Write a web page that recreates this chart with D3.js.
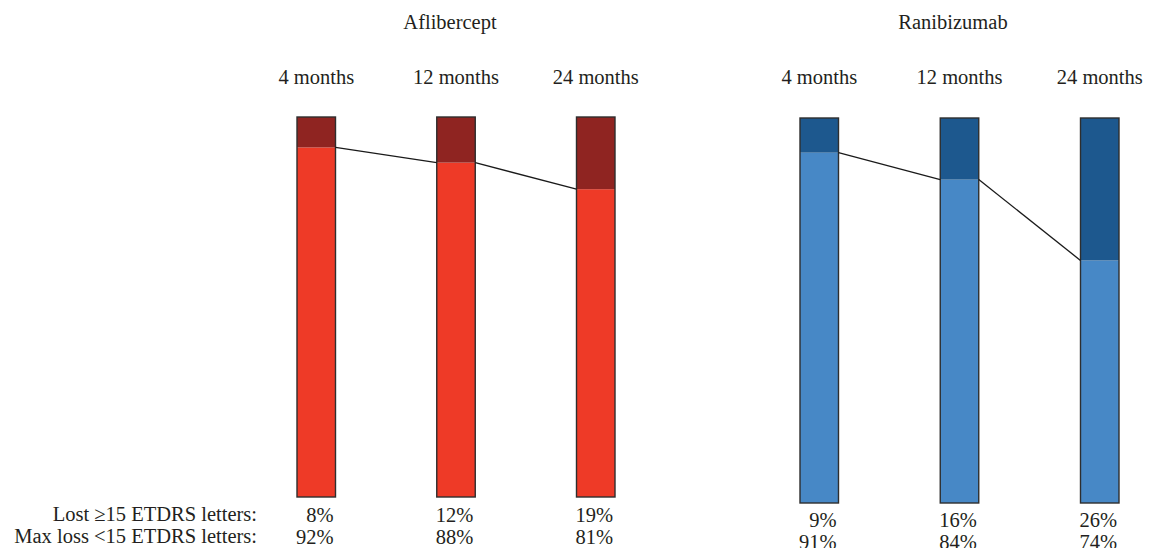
<!DOCTYPE html>
<html>
<head>
<meta charset="utf-8">
<script src="https://cdn.jsdelivr.net/npm/d3@7"></script>
<style>
  html, body { margin: 0; padding: 0; background: #fff; }
  svg text { font-family: "Liberation Serif", "DejaVu Serif", serif; fill: #231f20; }
</style>
</head>
<body>
<svg id="chart" width="1149" height="548"></svg>
<script>
// ---- data ----
const timepoints = ["4 months", "12 months", "24 months"];
const drugs = ["Aflibercept", "Ranibizumab"];
// Share (%) of eyes that lost >=15 ETDRS letters, as drawn in the bars
const aflibLost = [8, 12, 19];
const raniLost = [9, 16, 37];
// Printed value labels
const aflibLostLabels = ["8%", "12%", "19%"];
const aflibKeptLabels = ["92%", "88%", "81%"];
const raniLostLabels = ["9%", "16%", "26%"];
const raniKeptLabels = ["91%", "84%", "74%"];
const rowLabels = ["Lost \u226515 ETDRS letters:", "Max loss <15 ETDRS letters:"];

// ---- layout ----
const svg = d3.select("#chart");
const panels = [
  { name: drugs[0], lost: aflibLost, lostLbl: aflibLostLabels, keptLbl: aflibKeptLabels,
    xRange: [297, 615], top: 117, bottom: 497, dark: "#8f2421", light: "#ee3a27",
    titleX: 450, rowY: [522, 544] },
  { name: drugs[1], lost: raniLost, lostLbl: raniLostLabels, keptLbl: raniKeptLabels,
    xRange: [800, 1119], top: 118, bottom: 503, dark: "#1d588e", light: "#4788c6",
    titleX: 953, rowY: [527, 549] }
];
const barW = 38.5;
const fs = 20.5;

panels.forEach(p => {
  const x = d3.scalePoint().domain(timepoints).range([p.xRange[0] + barW / 2, p.xRange[1] - barW / 2]);
  const y = d3.scaleLinear().domain([0, 100]).range([p.bottom, p.top]);
  const g = svg.append("g");

  g.append("text").attr("x", p.titleX).attr("y", 29).attr("text-anchor", "middle")
    .style("font-size", fs + "px").text(p.name);

  g.selectAll("text.tp").data(timepoints).join("text").attr("class", "tp")
    .attr("x", d => x(d)).attr("y", 84).attr("text-anchor", "middle")
    .style("font-size", fs + "px").text(d => d);

  const data = timepoints.map((t, i) => ({ t, lost: p.lost[i] }));

  // kept (light) segment
  g.selectAll("rect.kept").data(data).join("rect").attr("class", "kept")
    .attr("x", d => x(d.t) - barW / 2).attr("width", barW)
    .attr("y", d => y(100 - d.lost)).attr("height", d => y(0) - y(100 - d.lost))
    .attr("fill", p.light);
  // lost (dark) segment on top
  g.selectAll("rect.lost").data(data).join("rect").attr("class", "lost")
    .attr("x", d => x(d.t) - barW / 2).attr("width", barW)
    .attr("y", y(100)).attr("height", d => y(100 - d.lost) - y(100))
    .attr("fill", p.dark);
  // outline
  g.selectAll("rect.outline").data(data).join("rect").attr("class", "outline")
    .attr("x", d => x(d.t) - barW / 2).attr("width", barW)
    .attr("y", y(100)).attr("height", y(0) - y(100))
    .attr("fill", "none").attr("stroke", "#2e2e2e").attr("stroke-width", 1.4);

  // connecting lines between bar edges at the split level
  const segs = d3.pairs(data);
  g.selectAll("line.conn").data(segs).join("line").attr("class", "conn")
    .attr("x1", d => x(d[0].t) + barW / 2).attr("y1", d => y(100 - d[0].lost))
    .attr("x2", d => x(d[1].t) - barW / 2).attr("y2", d => y(100 - d[1].lost))
    .attr("stroke", "#1a1a1a").attr("stroke-width", 1.3);

  // value labels, right-aligned to bar right edge
  [p.lostLbl, p.keptLbl].forEach((lbls, r) => {
    g.selectAll("text.v" + r).data(timepoints).join("text").attr("class", "v" + r)
      .attr("x", d => x(d) + barW / 2 - 2).attr("y", p.rowY[r]).attr("text-anchor", "end")
      .style("font-size", fs + "px").text((d, i) => lbls[i]);
  });
});

svg.selectAll("text.row").data(rowLabels).join("text").attr("class", "row")
  .attr("x", 257).attr("y", (d, i) => [521, 543][i]).attr("text-anchor", "end")
  .style("font-size", fs + "px").text(d => d);
</script>
</body>
</html>
